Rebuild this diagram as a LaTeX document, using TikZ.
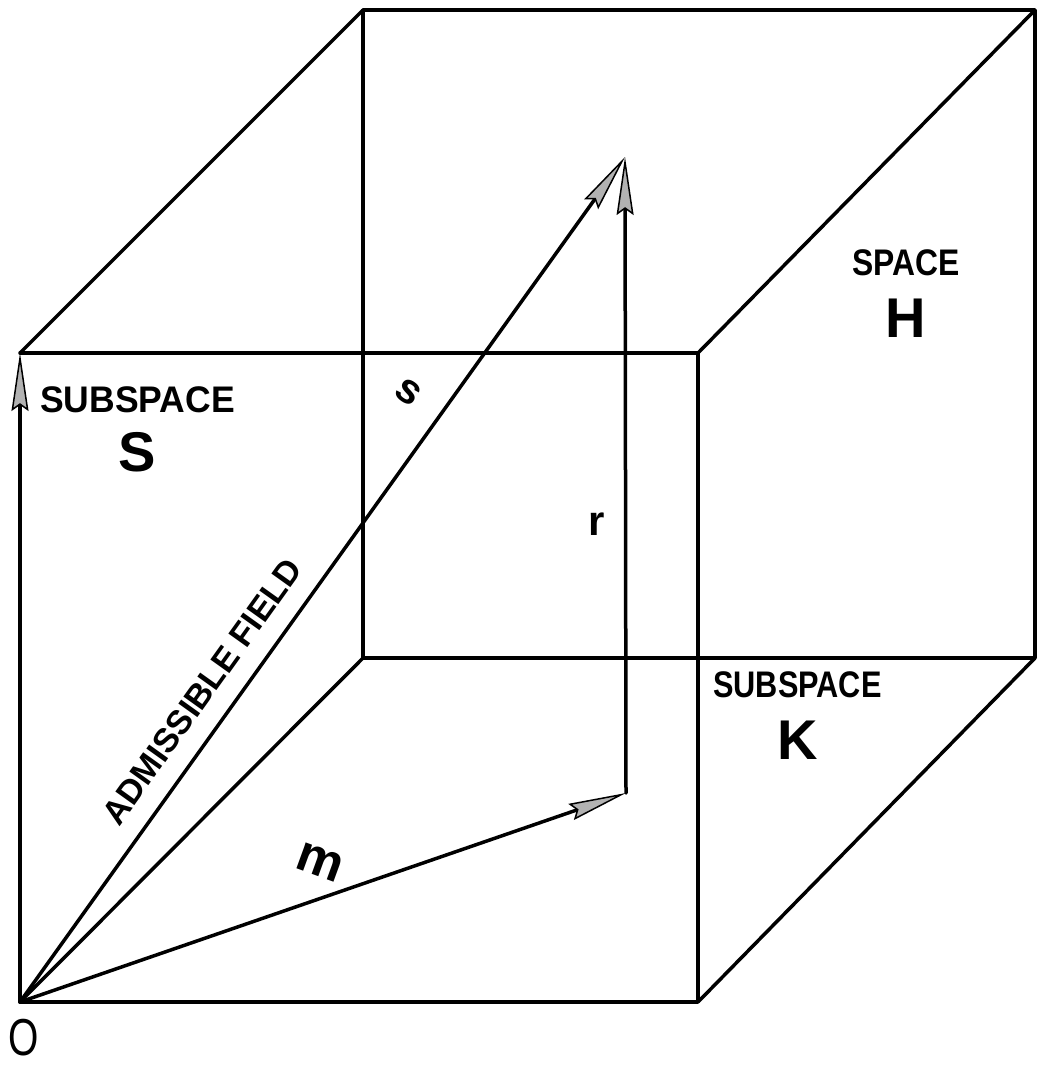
\documentclass[tikz,border=0pt]{standalone}
\usepackage{fontspec}
\setmainfont{Liberation Sans}
\usetikzlibrary{arrows.meta,positioning,calc}
\tikzset{
    cubeedge/.style={
        line width=3.5pt,         % trazo grueso de las aristas
        line cap=round,
        line join=round
    },
    vect/.style={
        cubeedge,                 % mismo trazo que las aristas
        -{Stealth[length=58pt,width=17pt,inset=6pt,line width=1.5pt,fill=gray!60]} % punta larga y estrecha
    },
    tag/.style={
        font=\bfseries\fontsize{37}{40}\selectfont, % rótulos SUBSPACE / SPACE
        inner sep=0pt
    },
    bigtag/.style={
        font=\bfseries\fontsize{56}{60}\selectfont, % letras grandes S, K, H
        inner sep=0pt
    }
}

\begin{document}
\begin{tikzpicture}[x=1pt,y=-1pt]
    \useasboundingbox (0,0) rectangle (1038,1065);
    % vértices del cubo
    \coordinate (o)   at (20,1002);
    \coordinate (fbr) at (698,1002);
    \coordinate (ftr) at (698,353);
    \coordinate (ftl) at (20,353);
    \coordinate (bbl) at (363,658);
    \coordinate (bbr) at (1035,658);
    \coordinate (btr) at (1035,10);
    \coordinate (btl) at (363,10);
    \coordinate (foot) at (626,793);
    \coordinate (tip)  at (625,157);

    % aristas
    \draw[cubeedge] (ftl) -- (ftr) -- (fbr) -- (o);
    \draw[cubeedge] (bbl) -- (bbr) -- (btr) -- (btl) -- cycle;
    \draw[cubeedge] (ftl) -- (btl);
    \draw[cubeedge] (ftr) -- (btr);
    \draw[cubeedge] (fbr) -- (bbr);
    \draw[cubeedge] (o) -- (bbl);

    % vectores
    \draw[vect] (o) -- (ftl);
    \draw[vect] (o) -- (foot);
    \draw[vect] (foot) -- (tip);
    \draw[vect] (o) -- node[tag, font=\bfseries\fontsize{34}{38}\selectfont, sloped, pos=0.345, above=19pt] (adm) {ADMISSIBLE FIELD} (tip);

    % rótulos
    \node[tag, anchor=base west] (subs) at (40,412) {\scalebox{0.96}[1]{SUBSPACE}};
    \node[bigtag, below=20pt of subs] (ls) {S};
    \node[tag, anchor=base west] (subk) at (713,697) {\scalebox{0.83}[1]{SUBSPACE}};
    \node[bigtag, below=23pt of subk] (lk) {K};
    \node[tag, anchor=base west] (spc) at (852,275) {\scalebox{0.86}[1]{SPACE}};
    \node[bigtag, below=23pt of spc] (lh) {H};
    \node[font=\bfseries\fontsize{52}{60}\selectfont, rotate=-20] (lm) at (320,862) {m};
    \node[font=\bfseries\fontsize{42}{48}\selectfont, rotate=-35] (lsv) at (408,392) {s};
    \node[font=\bfseries\fontsize{42}{50}\selectfont] (lr) at (597,524) {r};
    \node[font=\fontsize{52}{56}\selectfont, anchor=base, inner sep=0pt] (lo) at (24,1055) {\scalebox{0.75}[1]{O}};
\end{tikzpicture}
\end{document}
